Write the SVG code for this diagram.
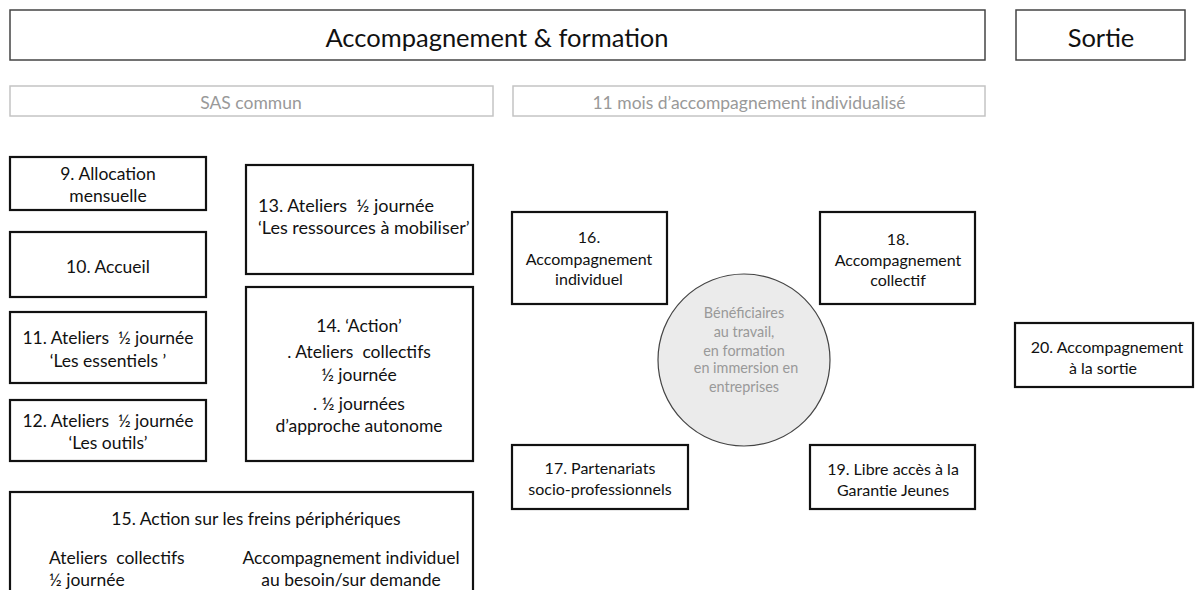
<svg xmlns="http://www.w3.org/2000/svg" width="1195" height="590" viewBox="0 0 1195 590">
<style>
text{font-family:Lato,"Liberation Sans",sans-serif;fill:#111;}
.hdr{fill:#fff;stroke:#444;stroke-width:1.5;}
.sub{fill:#fff;stroke:#c4c4c4;stroke-width:1.5;}
.subt{font-size:17.5px;fill:#999;text-anchor:middle;}
.box{fill:#fff;stroke:#111;stroke-width:2.2;}
.t{font-size:16px;text-anchor:middle;}
.big{font-size:17.5px;}
.tl{font-size:18px;}
.circ{fill:#ebebeb;stroke:#444;stroke-width:1.2;}
.ct{font-size:14.4px;fill:#999;text-anchor:middle;}
</style>
<rect width="1195" height="590" fill="#fff"/>
<g id="header-accompagnement">
<rect class="hdr" x="10" y="10" width="975" height="50"/>
<text x="497" y="47" font-size="25.5" text-anchor="middle">Accompagnement &amp; formation</text>
</g>
<g id="header-sortie">
<rect class="hdr" x="1016" y="10" width="169" height="50"/>
<text x="1101" y="47" font-size="25.5" text-anchor="middle">Sortie</text>
</g>
<g id="sas">
<rect class="sub" x="10" y="86" width="483" height="30"/>
<text class="subt" x="251" y="108.5">SAS commun</text>
</g>
<g id="onze-mois">
<rect class="sub" x="513" y="86" width="472" height="30"/>
<text class="subt" x="749" y="108.5">11 mois d’accompagnement individualisé</text>
</g>
<g id="n9">
<rect class="box" x="10" y="157" width="196" height="53"/>
<text class="t big" x="108" y="180">9. Allocation</text>
<text class="t big" x="108" y="202">mensuelle</text>
</g>
<g id="n10">
<rect class="box" x="10" y="232" width="196" height="65"/>
<text class="t big" x="108" y="273">10. Accueil</text>
</g>
<g id="n11">
<rect class="box" x="10" y="312" width="196" height="71"/>
<text class="t big" x="108" y="344" xml:space="preserve">11. Ateliers  ½ journée</text>
<text class="t big" x="108" y="367">‘Les essentiels ’</text>
</g>
<g id="n12">
<rect class="box" x="10" y="400" width="196" height="61"/>
<text class="t big" x="108" y="427" xml:space="preserve">12. Ateliers  ½ journée</text>
<text class="t big" x="108" y="449">‘Les outils’</text>
</g>
<g id="n13">
<rect class="box" x="246" y="165" width="227" height="109"/>
<text class="tl" x="258" y="212" xml:space="preserve">13. Ateliers  ½ journée</text>
<text class="tl" x="258" y="234">‘Les ressources à mobiliser’</text>
</g>
<g id="n14">
<rect class="box" x="246" y="287" width="227" height="174"/>
<text class="t big" x="359" y="332">14. ‘Action’</text>
<text class="t big" x="359" y="358" xml:space="preserve">. Ateliers  collectifs</text>
<text class="t big" x="359" y="381">½ journée</text>
<text class="t big" x="359" y="410">. ½ journées</text>
<text class="t big" x="359" y="432">d’approche autonome</text>
</g>
<g id="n15">
<rect class="box" x="10" y="492" width="463" height="110"/>
<text class="t big" x="256" y="525">15. Action sur les freins périphériques</text>
<text class="big" x="49" y="564" xml:space="preserve">Ateliers  collectifs</text>
<text class="big" x="49" y="586">½ journée</text>
<text class="t big" x="351" y="564">Accompagnement individuel</text>
<text class="t big" x="351" y="586">au besoin/sur demande</text>
</g>
<g id="beneficiaires">
<circle class="circ" cx="744" cy="360" r="86"/>
<text class="ct" x="744" y="318">Bénéficiaires</text>
<text class="ct" x="744" y="337">au travail,</text>
<text class="ct" x="744" y="356">en formation</text>
<text class="ct" x="746" y="373">en immersion en</text>
<text class="ct" x="744" y="392">entreprises</text>
</g>
<g id="n16">
<rect class="box" x="512" y="212" width="155" height="92"/>
<text class="t" x="589" y="243">16.</text>
<text class="t" x="589" y="265">Accompagnement</text>
<text class="t" x="589" y="285">individuel</text>
</g>
<g id="n18">
<rect class="box" x="820" y="212" width="155" height="92"/>
<text class="t" x="898" y="245">18.</text>
<text class="t" x="898" y="266">Accompagnement</text>
<text class="t" x="898" y="286">collectif</text>
</g>
<g id="n17">
<rect class="box" x="512" y="445" width="176" height="64"/>
<text class="t" x="600" y="474">17. Partenariats</text>
<text class="t" x="600" y="495">socio-professionnels</text>
</g>
<g id="n19">
<rect class="box" x="810" y="445" width="165" height="64"/>
<text class="t" x="893" y="475">19. Libre accès à la</text>
<text class="t" x="893" y="496">Garantie Jeunes</text>
</g>
<g id="n20">
<rect class="box" x="1015" y="323" width="178" height="64"/>
<text class="t" x="1107" y="353">20. Accompagnement</text>
<text class="t" x="1103" y="374">à la sortie</text>
</g>
<g id="connectors"></g>
</svg>
